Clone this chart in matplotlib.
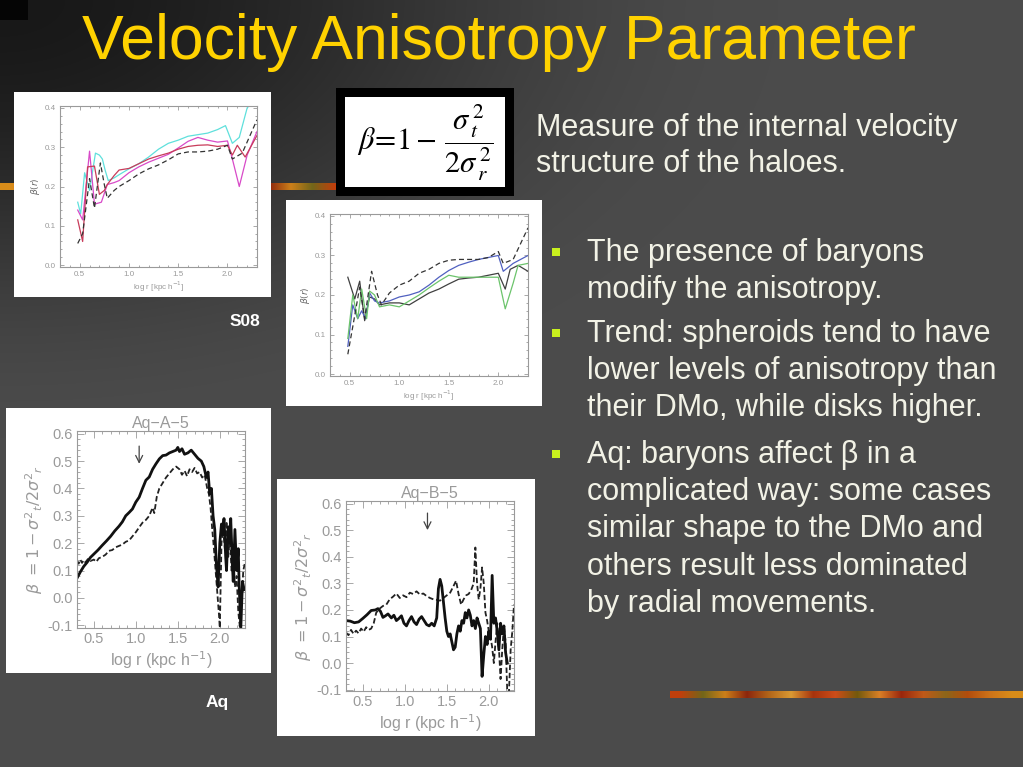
import numpy as np
import matplotlib
matplotlib.use("Agg")
import matplotlib.pyplot as plt
from matplotlib.patches import Rectangle
from matplotlib.ticker import MultipleLocator, FormatStrFormatter

W, H = 1023, 767

# ---------------- data ----------------
# S08 panel (top)
s1_cyan_x = [0.48, 0.51, 0.55, 0.60, 0.66, 0.70, 0.73, 0.76, 0.79, 0.85, 0.90, 1.00, 1.10, 1.20, 1.30, 1.40, 1.50, 1.60, 1.70, 1.80, 1.90, 1.98, 2.05, 2.12, 2.20, 2.30]
s1_cyan_y = [0.160, 0.130, 0.235, 0.190, 0.285, 0.280, 0.270, 0.240, 0.215, 0.222, 0.230, 0.245, 0.258, 0.275, 0.295, 0.310, 0.318, 0.328, 0.332, 0.336, 0.345, 0.355, 0.310, 0.325, 0.400, 0.430]
s1_mag_x = [0.48, 0.53, 0.60, 0.65, 0.72, 0.78, 0.85, 0.90, 1.00, 1.10, 1.20, 1.30, 1.40, 1.50, 1.60, 1.70, 1.80, 1.90, 2.00, 2.05, 2.12, 2.20, 2.30]
s1_mag_y = [0.140, 0.115, 0.290, 0.155, 0.160, 0.205, 0.210, 0.215, 0.235, 0.250, 0.262, 0.272, 0.282, 0.298, 0.315, 0.325, 0.318, 0.313, 0.316, 0.270, 0.200, 0.280, 0.340]
s1_red_x = [0.48, 0.53, 0.58, 0.65, 0.70, 0.75, 0.78, 0.85, 0.90, 1.00, 1.10, 1.20, 1.30, 1.40, 1.50, 1.60, 1.70, 1.80, 1.90, 2.00, 2.05, 2.10, 2.18, 2.30]
s1_red_y = [0.115, 0.060, 0.250, 0.252, 0.180, 0.190, 0.205, 0.228, 0.242, 0.246, 0.258, 0.270, 0.278, 0.285, 0.295, 0.302, 0.305, 0.306, 0.302, 0.305, 0.280, 0.305, 0.275, 0.330]
s1_dash_x = [0.48, 0.53, 0.60, 0.65, 0.71, 0.75, 0.78, 0.85, 0.90, 1.00, 1.10, 1.20, 1.30, 1.40, 1.50, 1.60, 1.70, 1.80, 1.90, 2.00, 2.05, 2.15, 2.30]
s1_dash_y = [0.055, 0.080, 0.220, 0.145, 0.260, 0.205, 0.170, 0.190, 0.200, 0.215, 0.232, 0.245, 0.255, 0.268, 0.283, 0.288, 0.288, 0.290, 0.295, 0.305, 0.270, 0.285, 0.370]

# S08 panel (bottom)
s2_dash_x = [0.48, 0.53, 0.60, 0.65, 0.72, 0.78, 0.82, 0.90, 1.00, 1.10, 1.20, 1.30, 1.40, 1.50, 1.60, 1.70, 1.80, 1.90, 2.00, 2.05, 2.15, 2.30]
s2_dash_y = [0.050, 0.120, 0.220, 0.140, 0.260, 0.200, 0.175, 0.205, 0.225, 0.235, 0.255, 0.265, 0.280, 0.288, 0.290, 0.290, 0.290, 0.295, 0.310, 0.280, 0.290, 0.370]
s2_blk_x = [0.48, 0.55, 0.60, 0.65, 0.70, 0.75, 0.80, 0.90, 1.00, 1.10, 1.20, 1.30, 1.40, 1.50, 1.60, 1.70, 1.80, 1.90, 2.00, 2.07, 2.12, 2.20, 2.30]
s2_blk_y = [0.245, 0.190, 0.235, 0.135, 0.195, 0.190, 0.175, 0.180, 0.180, 0.175, 0.190, 0.205, 0.215, 0.228, 0.240, 0.243, 0.245, 0.250, 0.255, 0.215, 0.265, 0.275, 0.260]
s2_blue_x = [0.48, 0.53, 0.58, 0.62, 0.66, 0.70, 0.75, 0.80, 0.90, 1.00, 1.10, 1.20, 1.30, 1.40, 1.50, 1.60, 1.70, 1.80, 1.90, 2.00, 2.05, 2.15, 2.30]
s2_blue_y = [0.070, 0.175, 0.140, 0.160, 0.140, 0.205, 0.185, 0.180, 0.185, 0.195, 0.200, 0.208, 0.225, 0.245, 0.262, 0.275, 0.283, 0.290, 0.295, 0.300, 0.260, 0.280, 0.300]
s2_grn_x = [0.48, 0.53, 0.58, 0.62, 0.67, 0.70, 0.75, 0.80, 0.90, 1.00, 1.10, 1.20, 1.30, 1.40, 1.50, 1.60, 1.70, 1.80, 1.90, 2.00, 2.07, 2.15, 2.20, 2.30]
s2_grn_y = [0.090, 0.200, 0.140, 0.215, 0.140, 0.210, 0.200, 0.170, 0.175, 0.170, 0.185, 0.200, 0.218, 0.235, 0.250, 0.245, 0.245, 0.245, 0.245, 0.245, 0.165, 0.230, 0.275, 0.280]

# Aq-A-5
aqa_sol_x = [0.30, 0.34, 0.38, 0.42, 0.46, 0.50, 0.55, 0.60, 0.65, 0.70, 0.75, 0.80, 0.84, 0.88, 0.92, 0.96, 1.00, 1.04, 1.08, 1.12, 1.16, 1.20, 1.24, 1.28, 1.32, 1.36, 1.40, 1.44, 1.48, 1.50, 1.52, 1.55, 1.58, 1.62, 1.66, 1.70, 1.74, 1.78, 1.81, 1.84, 1.86, 1.88, 1.90, 1.92, 1.94, 1.96, 1.98, 2.00, 2.02, 2.03, 2.05, 2.07, 2.08, 2.10, 2.12, 2.13, 2.15, 2.16, 2.18, 2.20, 2.22, 2.23, 2.25, 2.27, 2.29]
aqa_sol_y = [0.072, 0.095, 0.115, 0.130, 0.148, 0.160, 0.175, 0.192, 0.208, 0.225, 0.245, 0.262, 0.278, 0.300, 0.312, 0.325, 0.350, 0.368, 0.400, 0.430, 0.442, 0.470, 0.490, 0.508, 0.520, 0.522, 0.530, 0.535, 0.540, 0.550, 0.535, 0.545, 0.525, 0.530, 0.540, 0.525, 0.510, 0.500, 0.480, 0.440, 0.460, 0.380, 0.400, 0.300, 0.250, 0.120, 0.040, 0.200, 0.270, 0.230, 0.290, 0.150, 0.100, 0.260, 0.200, 0.290, 0.120, 0.060, 0.250, 0.100, 0.180, 0.050, -0.110, 0.060, 0.030]
aqa_dash_x = [0.30, 0.32, 0.34, 0.36, 0.38, 0.40, 0.43, 0.46, 0.50, 0.53, 0.56, 0.60, 0.64, 0.68, 0.72, 0.76, 0.80, 0.84, 0.88, 0.92, 0.96, 1.00, 1.04, 1.08, 1.12, 1.16, 1.20, 1.22, 1.25, 1.28, 1.32, 1.36, 1.40, 1.44, 1.48, 1.52, 1.55, 1.58, 1.61, 1.64, 1.67, 1.70, 1.73, 1.76, 1.79, 1.82, 1.85, 1.87, 1.89, 1.91, 1.93, 1.95, 1.97, 1.99, 2.00, 2.02, 2.04, 2.06, 2.08, 2.10, 2.12, 2.14, 2.16, 2.18, 2.20, 2.22, 2.24, 2.26, 2.28, 2.30]
aqa_dash_y = [0.135, 0.125, 0.140, 0.128, 0.138, 0.130, 0.142, 0.135, 0.140, 0.132, 0.145, 0.150, 0.158, 0.172, 0.175, 0.185, 0.190, 0.195, 0.205, 0.210, 0.225, 0.240, 0.258, 0.275, 0.285, 0.300, 0.330, 0.310, 0.370, 0.400, 0.420, 0.440, 0.455, 0.470, 0.480, 0.470, 0.450, 0.465, 0.445, 0.470, 0.460, 0.475, 0.455, 0.460, 0.440, 0.450, 0.400, 0.380, 0.330, 0.250, 0.180, 0.100, 0.020, -0.060, -0.110, 0.200, 0.250, 0.180, 0.280, 0.150, 0.220, 0.100, 0.180, 0.040, 0.080, -0.050, -0.110, 0.000, 0.100, 0.130]

# Aq-B-5
aqb_sol_x = [0.30, 0.35, 0.40, 0.45, 0.50, 0.55, 0.60, 0.65, 0.68, 0.71, 0.74, 0.77, 0.80, 0.84, 0.87, 0.90, 0.93, 0.96, 0.99, 1.02, 1.05, 1.08, 1.11, 1.14, 1.17, 1.20, 1.23, 1.26, 1.29, 1.32, 1.35, 1.38, 1.40, 1.42, 1.44, 1.46, 1.48, 1.50, 1.52, 1.54, 1.56, 1.58, 1.60, 1.62, 1.64, 1.66, 1.68, 1.70, 1.72, 1.74, 1.76, 1.78, 1.80, 1.82, 1.84, 1.86, 1.88, 1.90, 1.92, 1.94, 1.96, 1.98, 2.00, 2.02, 2.04, 2.06, 2.08, 2.10, 2.12, 2.14, 2.16, 2.18, 2.20, 2.22]
aqb_sol_y = [0.160, 0.158, 0.152, 0.155, 0.168, 0.182, 0.198, 0.200, 0.205, 0.195, 0.172, 0.178, 0.185, 0.170, 0.180, 0.160, 0.168, 0.178, 0.150, 0.140, 0.160, 0.175, 0.155, 0.145, 0.165, 0.175, 0.160, 0.145, 0.140, 0.150, 0.140, 0.170, 0.280, 0.315, 0.290, 0.230, 0.170, 0.120, 0.100, 0.110, 0.080, 0.050, 0.060, 0.110, 0.140, 0.120, 0.160, 0.150, 0.190, 0.170, 0.200, 0.180, 0.140, 0.160, 0.130, 0.170, 0.150, 0.130, -0.050, 0.030, 0.100, 0.070, 0.120, 0.090, 0.330, 0.150, 0.170, 0.120, 0.050, 0.150, 0.110, 0.140, 0.040, 0.000]
aqb_dash_x = [0.30, 0.33, 0.36, 0.39, 0.42, 0.45, 0.48, 0.51, 0.54, 0.57, 0.60, 0.63, 0.66, 0.70, 0.74, 0.78, 0.82, 0.86, 0.90, 0.94, 0.98, 1.02, 1.06, 1.10, 1.14, 1.18, 1.22, 1.26, 1.30, 1.34, 1.38, 1.42, 1.46, 1.50, 1.54, 1.58, 1.61, 1.64, 1.67, 1.70, 1.73, 1.76, 1.79, 1.82, 1.84, 1.86, 1.88, 1.90, 1.92, 1.94, 1.96, 1.98, 2.00, 2.02, 2.04, 2.06, 2.08, 2.10, 2.12, 2.14, 2.16, 2.18, 2.20, 2.22, 2.24, 2.26, 2.28, 2.30]
aqb_dash_y = [0.115, 0.105, 0.125, 0.110, 0.122, 0.112, 0.130, 0.118, 0.135, 0.125, 0.130, 0.150, 0.190, 0.205, 0.215, 0.220, 0.240, 0.250, 0.262, 0.245, 0.255, 0.248, 0.265, 0.260, 0.270, 0.258, 0.262, 0.252, 0.245, 0.240, 0.238, 0.235, 0.245, 0.255, 0.265, 0.290, 0.310, 0.260, 0.220, 0.240, 0.255, 0.260, 0.275, 0.300, 0.435, 0.300, 0.240, 0.280, 0.360, 0.300, 0.190, 0.160, 0.120, 0.100, 0.060, 0.000, 0.080, 0.150, 0.060, -0.060, 0.050, 0.140, 0.080, -0.110, -0.110, 0.050, 0.120, 0.220]

s08_yticks = [0.0, 0.1, 0.2, 0.3, 0.4]
aq_yticks = [-0.1, 0.0, 0.1, 0.2, 0.3, 0.4, 0.5, 0.6]
xticks_all = [0.5, 1.0, 1.5, 2.0]

title_text = "Velocity Anisotropy Parameter"
intro_lines = ["Measure of the internal velocity", "structure of the haloes."]
bullets = [
    ["The presence of baryons", "modify the anisotropy."],
    ["Trend: spheroids tend to have", "lower levels of anisotropy than", "their DMo, while disks higher."],
    ["Aq: baryons affect \u03b2 in a", "complicated way: some cases", "similar shape to the DMo and", "others result less dominated", "by radial movements."],
]

# ---------------- figure ----------------
fig = plt.figure(figsize=(W / 100, H / 100), dpi=100)
SANS = ["Liberation Sans", "DejaVu Sans"]


def add_ax_px(x0, y0, x1, y1, **kw):
    return fig.add_axes([x0 / W, 1 - y1 / H, (x1 - x0) / W, (y1 - y0) / H], **kw)


# background gradient
bg = add_ax_px(0, 0, W, H)
bg.set_axis_off()
yy, xx = np.mgrid[0:H, 0:W]
r = np.sqrt((xx * 0.9) ** 2 + (yy * 1.6) ** 2)
t = np.clip(r / 700.0, 0, 1)
t = t * t * (3 - 2 * t)
val = (0x18 + (0x4b - 0x18) * t) / 255.0
img = np.dstack([val, val, val])
img[0:20, 0:28] = 0.02
bg.imshow(img, extent=(0, W, H, 0), aspect="auto", interpolation="bilinear")

# decorative strips
strip_cols = np.array([
    [0.85, 0.55, 0.10], [0.80, 0.45, 0.10], [0.70, 0.30, 0.05], [0.55, 0.40, 0.10],
    [0.75, 0.35, 0.10], [0.60, 0.15, 0.05], [0.85, 0.50, 0.15], [0.45, 0.35, 0.05],
    [0.80, 0.30, 0.10], [0.65, 0.20, 0.05], [0.85, 0.60, 0.20], [0.70, 0.40, 0.10],
    [0.55, 0.15, 0.05], [0.80, 0.50, 0.10], [0.45, 0.40, 0.10], [0.75, 0.25, 0.05],
])
strip_img = strip_cols[np.newaxis, :, :]
bg.imshow(strip_img, extent=(0, 345, 190, 183), aspect="auto", interpolation="bilinear", zorder=2)
bg.imshow(strip_img[:, ::-1, :], extent=(670, W, 698, 691), aspect="auto", interpolation="bilinear", zorder=2)

# white panels
for (x0, y0, x1, y1) in [(14, 92, 271, 297), (286, 200, 542, 406), (6, 408, 271, 673), (277, 479, 535, 736)]:
    bg.add_patch(Rectangle((x0, y0), x1 - x0, y1 - y0, facecolor="white", edgecolor="none", zorder=3))

# formula box
bg.add_patch(Rectangle((336, 88), 178, 108, facecolor="black", edgecolor="none", zorder=3))
bg.add_patch(Rectangle((345, 97), 160, 90, facecolor="white", edgecolor="none", zorder=4))
bg.text(425, 143, r"$\beta\!=\!1-\,\dfrac{\sigma_{\,t}^{\,2}}{2\sigma_{\,r}^{\,2}}$", fontsize=22,
        math_fontfamily="stix", ha="center", va="center", color="black", zorder=5)

# bullet squares
bullet_y = [252, 333, 454]
for yb in bullet_y:
    bg.add_patch(Rectangle((552, yb - 4), 8, 8, facecolor="#c8f01e", edgecolor="none", zorder=5))
bg.set_xlim(0, W)
bg.set_ylim(H, 0)

GRAY = "#9a9a9a"


def style_idl(ax, xt, yt, ylim, fs, major_len, minor_len, ymin_step):
    ax.set_xlim(0.3, 2.3)
    ax.set_ylim(*ylim)
    ax.set_xticks(xt)
    ax.set_yticks(yt)
    ax.xaxis.set_minor_locator(MultipleLocator(0.1))
    ax.yaxis.set_minor_locator(MultipleLocator(ymin_step))
    ax.yaxis.set_major_formatter(FormatStrFormatter("%.1f"))
    ax.tick_params(which="both", direction="in", top=True, right=True, colors=GRAY,
                   labelsize=fs, width=0.6)
    ax.tick_params(which="major", length=major_len, pad=3)
    ax.tick_params(which="minor", length=minor_len)
    for s in ax.spines.values():
        s.set_color(GRAY)
        s.set_linewidth(0.8)
    ax.set_facecolor("white")
    for lab in ax.get_xticklabels() + ax.get_yticklabels():
        lab.set_fontfamily(SANS)


# Panel 1 (S08 top)
ax1 = add_ax_px(60, 106, 257, 267)
ax1.plot(s1_cyan_x, s1_cyan_y, color="#5fe0dc", lw=0.9)
ax1.plot(s1_mag_x, s1_mag_y, color="#d84ac8", lw=0.9)
ax1.plot(s1_red_x, s1_red_y, color="#c83c5a", lw=0.9)
ax1.plot(s1_dash_x, s1_dash_y, color="#333333", lw=0.9, ls=(0, (4, 2.5)))
style_idl(ax1, xticks_all, s08_yticks, (-0.005, 0.405), 5.8, 3, 1.5, 0.02)
ax1.set_xlabel(r"log r [kpc h$^{-1}$]", fontsize=5.8, color=GRAY, labelpad=1, family=SANS)
ax1.set_ylabel(r"$\beta(r)$", fontsize=6.5, color="#666666", labelpad=2)

# Panel 2 (S08 bottom)
ax2 = add_ax_px(330, 214, 528, 376)
ax2.plot(s2_blk_x, s2_blk_y, color="#404040", lw=0.9)
ax2.plot(s2_blue_x, s2_blue_y, color="#5060c0", lw=0.9)
ax2.plot(s2_grn_x, s2_grn_y, color="#6cc46c", lw=0.9)
ax2.plot(s2_dash_x, s2_dash_y, color="#333333", lw=0.9, ls=(0, (4, 2.5)))
style_idl(ax2, xticks_all, s08_yticks, (-0.005, 0.405), 5.8, 3, 1.5, 0.02)
ax2.set_xlabel(r"log r [kpc h$^{-1}$]", fontsize=5.8, color=GRAY, labelpad=1, family=SANS)
ax2.set_ylabel(r"$\beta(r)$", fontsize=6.5, color="#666666", labelpad=2)

AQ_YLABEL = r"$\beta\ =1-\sigma^2{}_t/2\sigma^2{}_r$"

# Panel 3 (Aq-A-5)
ax3 = add_ax_px(77, 431, 245, 628)
ax3.plot(aqa_dash_x, aqa_dash_y, color="#222222", lw=1.3, ls=(0, (3, 1.5)))
ax3.plot(aqa_sol_x, aqa_sol_y, color="#111111", lw=2.0)
style_idl(ax3, xticks_all, aq_yticks, (-0.11, 0.61), 10.5, 5, 2.5, 0.02)
ax3.set_title("Aq\u2212A\u22125", fontsize=11.5, color=GRAY, pad=1, family=SANS)
ax3.set_xlabel(r"log r (kpc h$^{-1}$)", fontsize=11.5, color=GRAY, labelpad=2, family=SANS)
ax3.set_ylabel(AQ_YLABEL, fontsize=11.5, color=GRAY, labelpad=2)
ax3.annotate("", xy=(1.04, 0.48), xytext=(1.04, 0.565),
             arrowprops=dict(arrowstyle="->,head_length=0.5,head_width=0.25", color="#444444", lw=0.9))

# Panel 4 (Aq-B-5)
ax4 = add_ax_px(346, 501, 514, 691)
ax4.plot(aqb_dash_x, aqb_dash_y, color="#222222", lw=1.3, ls=(0, (3, 1.5)))
ax4.plot(aqb_sol_x, aqb_sol_y, color="#111111", lw=2.0)
style_idl(ax4, xticks_all, aq_yticks, (-0.105, 0.61), 10.5, 5, 2.5, 0.02)
ax4.set_title("Aq\u2212B\u22125", fontsize=11.5, color=GRAY, pad=1, family=SANS)
ax4.set_xlabel(r"log r (kpc h$^{-1}$)", fontsize=11.5, color=GRAY, labelpad=2, family=SANS)
ax4.set_ylabel(AQ_YLABEL, fontsize=11.5, color=GRAY, labelpad=2)
ax4.annotate("", xy=(1.27, 0.49), xytext=(1.27, 0.575),
             arrowprops=dict(arrowstyle="->,head_length=0.5,head_width=0.25", color="#444444", lw=0.9))

# ---------------- slide text ----------------
def ftext(x, y, s, **kw):
    fig.text(x / W, 1 - y / H, s, **kw)


ftext(499, 42, title_text, fontsize=45, color="#ffd200", ha="center", va="center", family=SANS)
for i, line in enumerate(intro_lines):
    ftext(536, 128 + i * 36, line, fontsize=22, color="#f2f2e6", ha="left", va="center", family=SANS)

for b, y0 in zip(bullets, bullet_y):
    for j, line in enumerate(b):
        ftext(587, y0 + 1 + j * 37.2, line, fontsize=22, color="#f2f2e6", ha="left", va="center", family=SANS)

ftext(245, 321, "S08", fontsize=12.5, color="white", ha="center", va="center", fontweight="bold", family=SANS)
ftext(217, 703, "Aq", fontsize=12.5, color="white", ha="center", va="center", fontweight="bold", family=SANS)

fig.savefig("out.png", dpi=100)
